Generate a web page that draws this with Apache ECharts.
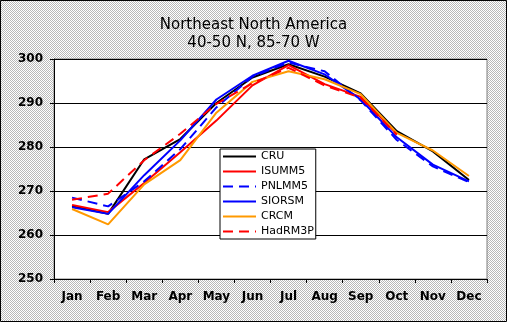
<!DOCTYPE html>
<html>
<head>
<meta charset="utf-8">
<script src="https://cdn.jsdelivr.net/npm/echarts@6/dist/echarts.min.js"></script>
<style>
html,body{margin:0;padding:0;}
#wrap{position:relative;width:507px;height:322px;
 background: repeating-conic-gradient(#ffffff 0 25%, #b8b8b8 0 50%) 0 0/2px 2px;}
#chart{width:507px;height:322px;}
</style>
</head>
<body>
<div id="wrap"><div id="chart"></div></div>
<script>
const months = ['Jan','Feb','Mar','Apr','May','Jun','Jul','Aug','Sep','Oct','Nov','Dec'];
const CRU     = [266.6, 264.8, 277.2, 281.8, 290.0, 295.8, 298.8, 296.0, 292.2, 283.6, 279.0, 272.5];
const ISUMM5  = [266.8, 265.2, 271.8, 278.8, 286.0, 294.0, 298.6, 294.3, 291.4, 283.0, null, null];
const PNLMM5  = [268.5, 266.5, 272.2, 279.5, 289.0, 296.0, 299.2, 297.2, 290.6, 281.6, 275.6, 272.0];
const SIORSM  = [266.3, 264.8, 273.6, 281.5, 290.8, 296.2, 299.6, 296.5, 290.8, 282.2, 276.0, 272.2];
const CRCM    = [265.9, 262.4, 271.5, 277.0, 287.8, 294.8, 297.2, 295.4, 292.0, 283.2, 279.2, 273.4];
const HadRM3P = [268.0, 269.4, 277.0, 283.0, 289.8, 294.5, 298.0, 294.0, 291.2, 282.8, null, null];
const yTicks = [250, 260, 270, 280, 290, 300];

const chart = echarts.init(document.getElementById('chart'), null, {renderer:'canvas'});
function s(name, data, color, type){
  return {name, type:'line', data, symbol:'none', showSymbol:false, connectNulls:false, animation:false,
    lineStyle:{color, width:2, type: type||'solid'}, itemStyle:{color}};
}
chart.setOption({
  backgroundColor:'transparent',
  animation:false,
  title:{
    text:'Northeast North America\n40-50 N, 85-70 W',
    left:'center', top:11,
    textStyle:{fontFamily:'DejaVu Sans', fontSize:15, fontWeight:'normal', color:'#000', lineHeight:18}
  },
  graphic:[{type:'rect', shape:{x:0.5,y:0.5,width:506,height:321}, style:{fill:null, stroke:'#000', lineWidth:1}, silent:true, z:100}],
  grid:{left:54, right:20, top:59, bottom:43, show:true, backgroundColor:'#fff', borderColor:'#808080', borderWidth:1},
  legend:{
    orient:'vertical', left:220, top:149,
    backgroundColor:'#fff', borderColor:'#000', borderWidth:1, borderRadius:0,
    padding:[2,2,2,2], itemGap:4, itemWidth:33, itemHeight:10,
    itemStyle:{opacity:0},
    textStyle:{fontFamily:'DejaVu Sans', fontSize:11, color:'#000'},
    data:['CRU','ISUMM5','PNLMM5','SIORSM','CRCM','HadRM3P']
  },
  xAxis:{
    type:'category', data:months, boundaryGap:true,
    axisLine:{lineStyle:{color:'#000', width:1}},
    axisTick:{show:true, length:4, lineStyle:{color:'#000'}},
    axisLabel:{fontFamily:'DejaVu Sans', fontWeight:'bold', fontSize:12, color:'#000', margin:12, interval:0},
    splitLine:{show:false}
  },
  yAxis:{
    type:'value', min:yTicks[0], max:yTicks[yTicks.length-1], interval:10,
    axisLine:{show:true, lineStyle:{color:'#000', width:1}},
    axisTick:{show:true, length:4, lineStyle:{color:'#000'}},
    axisLabel:{fontFamily:'DejaVu Sans', fontWeight:'bold', fontSize:12, color:'#000', margin:11},
    splitLine:{show:true, lineStyle:{color:'#000', width:1}}
  },
  series:[
    s('CRU', CRU, '#000000'),
    s('ISUMM5', ISUMM5, '#ff0000'),
    s('PNLMM5', PNLMM5, '#0000ff', [10,6]),
    s('SIORSM', SIORSM, '#0000ff'),
    s('CRCM', CRCM, '#ff9900'),
    s('HadRM3P', HadRM3P, '#ff0000', [10,6])
  ]
});
</script>
</body>
</html>
